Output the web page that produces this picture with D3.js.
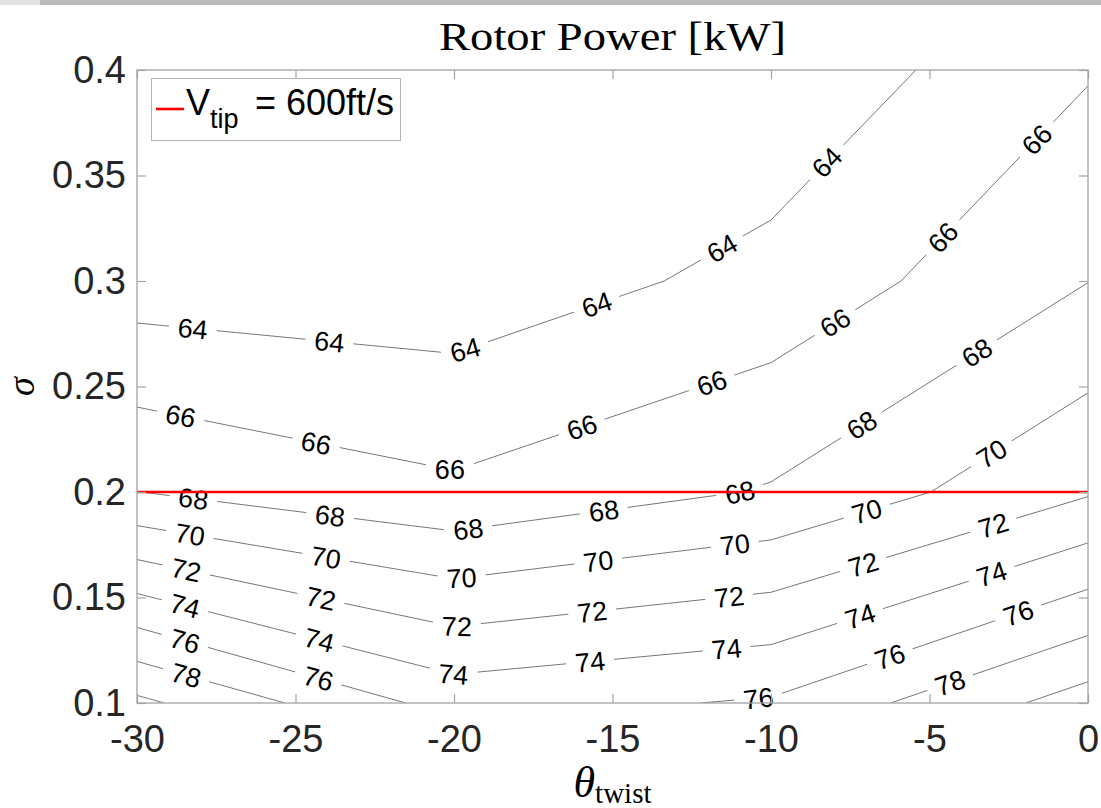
<!DOCTYPE html>
<html lang="en">
  <meta charset="utf-8" />
  <head>
    <title>Rotor Power</title>
    <script src="https://cdn.jsdelivr.net/npm/d3@7"></script>
    <style>
      body { margin: 0; background: #fff; }
      svg { display: block; }
    </style>
  </head>
  <body>
  <script>
    // DATA
    // power [kW] on the (theta_twist, sigma) grid, rows = sigma, cols = theta
    var thetaGrid = [-30, -20, -10, 0];
    var sigmaGrid = [0.1, 0.2, 0.3, 0.4];
    var powerGrid = [
      [80.45, 75.20, 76.23, 80.92],
      [68.02, 66.37, 68.17, 71.80],
      [63.00, 62.76, 64.63, 67.97],
      [62.40, 62.20, 62.45, 65.84]
    ];
    var levels = [64, 66, 68, 70, 72, 74, 76, 78, 80];
    // where the inline labels sit along each contour (theta)
    var labelThetas = [
      [-28.24, -23.93, -19.65, -15.5, -11.55, -8.24],
      [-28.62, -24.35, -20.13, -15.97, -11.87, -7.98, -4.58, -1.62],
      [-28.22, -23.91, -19.55, -15.27, -10.98, -7.14, -3.51],
      [-28.33, -24.04, -19.76, -15.45, -11.14, -6.98, -3.04],
      [-28.45, -24.2, -19.91, -15.64, -11.32, -7.09, -2.99],
      [-28.49, -24.25, -20.02, -15.71, -11.4, -7.19, -3.04],
      [-28.49, -24.28, -10.4, -6.25, -2.2],
      [-28.45, -4.35],
      []
    ];
    var thetaTicks = [-30, -25, -20, -15, -10, -5, 0];
    var sigmaTicks = [0.1, 0.15, 0.2, 0.25, 0.3, 0.35, 0.4];
    var vtipSigma = 0.2;

    // CONFIG
    var width = 1101, height = 808;
    var plotL = 137, plotR = 1088, plotT = 70, plotB = 703;
    var sans = "'Liberation Sans', Arial, Helvetica, sans-serif";
    var serif = "'Liberation Serif', 'Times New Roman', serif";
    var axisGray = "#a3a3a3";

    var x = d3.scaleLinear().domain([-30, 0]).range([plotL, plotR]);
    var y = d3.scaleLinear().domain([0.1, 0.4]).range([plotB, plotT]);

    var svg = d3.select("body").append("svg")
        .attr("width", width)
        .attr("height", height);

    // screenshot band along the top
    svg.append("rect").attr("x", 0).attr("y", 0).attr("width", width).attr("height", 5).attr("fill", "#bcbcbc");
    svg.append("rect").attr("x", 0).attr("y", 0).attr("width", 40).attr("height", 5).attr("fill", "#e2e2e2");

    // marching squares on the coarse grid
    function contourSegments(level) {
      var segs = [];
      for (var j = 0; j < sigmaGrid.length - 1; j++) {
        for (var i = 0; i < thetaGrid.length - 1; i++) {
          var corners = [[i, j], [i + 1, j], [i + 1, j + 1], [i, j + 1]];
          var pts = [];
          for (var k = 0; k < 4; k++) {
            var a = corners[k], b = corners[(k + 1) % 4];
            var va = powerGrid[a[1]][a[0]], vb = powerGrid[b[1]][b[0]];
            if ((va - level) * (vb - level) < 0) {
              var t = (level - va) / (vb - va);
              pts.push([
                thetaGrid[a[0]] + t * (thetaGrid[b[0]] - thetaGrid[a[0]]),
                sigmaGrid[a[1]] + t * (sigmaGrid[b[1]] - sigmaGrid[a[1]])
              ]);
            }
          }
          if (pts.length === 2) segs.push(pts);
          if (pts.length === 4) segs.push([pts[0], pts[1]], [pts[2], pts[3]]);
        }
      }
      return segs;
    }

    function same(p, q) {
      return Math.abs(p[0] - q[0]) < 1e-9 && Math.abs(p[1] - q[1]) < 1e-9;
    }

    // join segments into polylines
    function chain(segs) {
      var lines = [];
      segs = segs.slice();
      while (segs.length) {
        var ln = segs.shift().slice();
        var grown = true;
        while (grown) {
          grown = false;
          for (var s = 0; s < segs.length; s++) {
            var sg = segs[s];
            if (same(sg[0], ln[ln.length - 1])) ln.push(sg[1]);
            else if (same(sg[1], ln[ln.length - 1])) ln.push(sg[0]);
            else if (same(sg[1], ln[0])) ln.unshift(sg[0]);
            else if (same(sg[0], ln[0])) ln.unshift(sg[1]);
            else continue;
            segs.splice(s, 1);
            grown = true;
            break;
          }
        }
        // left to right
        if (ln[0][0] > ln[ln.length - 1][0]) ln.reverse();
        lines.push(ln);
      }
      return lines;
    }

    function sigmaAt(lines, t) {
      for (var l = 0; l < lines.length; l++) {
        var ln = lines[l];
        for (var i = 0; i < ln.length - 1; i++) {
          var p = ln[i], q = ln[i + 1];
          var lo = Math.min(p[0], q[0]), hi = Math.max(p[0], q[0]);
          if (t >= lo && t <= hi && hi > lo) {
            return p[1] + (t - p[0]) / (q[0] - p[0]) * (q[1] - p[1]);
          }
        }
      }
      return null;
    }

    var contours = levels.map(function (lv, i) {
      return { level: lv, lines: chain(contourSegments(lv)), labels: labelThetas[i] };
    });

    var lineGen = d3.line().x((d) => x(d[0])).y((d) => y(d[1]));

    // label geometry
    var labels = [];
    contours.forEach(function (c) {
      c.labels.forEach(function (t) {
        var s = sigmaAt(c.lines, t);
        if (s === null) return;
        var dt = 0.5;
        var ta = Math.max(-30, t - dt), tb = Math.min(0, t + dt);
        var s0 = sigmaAt(c.lines, ta), s1 = sigmaAt(c.lines, tb);
        if (s0 === null) { s0 = s; ta = t; }
        if (s1 === null) { s1 = s; tb = t; }
        var ang = Math.atan2(y(s1) - y(s0), x(tb) - x(ta)) * 180 / Math.PI;
        if (ang > 90) ang -= 180;
        if (ang < -90) ang += 180;
        labels.push({ level: c.level, px: x(t), py: y(s), angle: ang });
      });
    });

    var defs = svg.append("defs");
    defs.append("clipPath").attr("id", "plotClip")
      .append("rect").attr("x", plotL).attr("y", plotT)
      .attr("width", plotR - plotL).attr("height", plotB - plotT);

    var lineHolder = svg.append("g").attr("clip-path", "url(#plotClip)");

    // contour labels
    var labelG = svg.append("g").attr("class", "clabels");
    var texts = labelG.selectAll("text")
      .data(labels).enter()
      .append("text")
        .attr("transform", (d) => `translate(${d.px},${d.py}) rotate(${d.angle})`)
        .attr("text-anchor", "middle")
        .attr("dy", "0.36em")
        .attr("font-family", sans)
        .attr("font-size", 27)
        .attr("fill", "#000")
        .text((d) => d.level);
    texts.each(function (d) { d.w = this.getComputedTextLength(); });

    var mask = defs.append("mask").attr("id", "gaps").attr("maskUnits", "userSpaceOnUse")
      .attr("x", 0).attr("y", 0).attr("width", width).attr("height", height);
    mask.append("rect").attr("x", 0).attr("y", 0).attr("width", width).attr("height", height).attr("fill", "#fff");
    mask.selectAll("rect.gap")
      .data(labels).enter()
      .append("rect")
        .attr("class", "gap")
        .attr("x", (d) => -(d.w / 2 + 9))
        .attr("y", -13)
        .attr("width", (d) => d.w + 18)
        .attr("height", 26)
        .attr("transform", (d) => `translate(${d.px},${d.py}) rotate(${d.angle})`)
        .attr("fill", "#000");

    var lineG = lineHolder.append("g").attr("mask", "url(#gaps)");
    contours.forEach(function (c) {
      c.lines.forEach(function (ln) {
        lineG.append("path")
          .attr("d", lineGen(ln))
          .attr("fill", "none")
          .attr("stroke", "#767676")
          .attr("stroke-width", 1)
          .attr("stroke-linejoin", "round");
      });
    });

    // V_tip line
    svg.append("line")
      .attr("x1", x(-30)).attr("x2", x(0))
      .attr("y1", y(vtipSigma)).attr("y2", y(vtipSigma))
      .attr("stroke", "#ff0000")
      .attr("stroke-width", 2.6);

    // AXES
    function styleAxis(g) {
      g.select(".domain").remove();
      g.selectAll(".tick line").attr("stroke", axisGray).attr("stroke-width", 1.2);
      g.selectAll(".tick text").attr("fill", "#262626").attr("font-family", sans).attr("font-size", 38);
    }

    svg.append("g")
      .attr("transform", `translate(0,${plotB})`)
      .call(d3.axisBottom(x).tickValues(thetaTicks).tickSizeInner(-9).tickSizeOuter(0).tickPadding(22)
        .tickFormat((d) => String(d)))
      .call(styleAxis);
    svg.append("g")
      .attr("transform", `translate(0,${plotT})`)
      .call(d3.axisTop(x).tickValues(thetaTicks).tickSizeInner(-9).tickSizeOuter(0).tickFormat(""))
      .call(styleAxis);
    svg.append("g")
      .attr("transform", `translate(${plotL},0)`)
      .call(d3.axisLeft(y).tickValues(sigmaTicks).tickSizeInner(-9).tickSizeOuter(0).tickPadding(11)
        .tickFormat(d3.format("~g")))
      .call(styleAxis);
    svg.append("g")
      .attr("transform", `translate(${plotR},0)`)
      .call(d3.axisRight(y).tickValues(sigmaTicks).tickSizeInner(-9).tickSizeOuter(0).tickFormat(""))
      .call(styleAxis);

    svg.append("rect")
      .attr("x", plotL).attr("y", plotT)
      .attr("width", plotR - plotL).attr("height", plotB - plotT)
      .attr("fill", "none")
      .attr("stroke", axisGray)
      .attr("stroke-width", 1.3);

    // TITLE + LABELS
    svg.append("text")
      .attr("x", (plotL + plotR) / 2)
      .attr("y", 50)
      .attr("text-anchor", "middle")
      .attr("font-family", serif)
      .attr("font-size", 41)
      .attr("textLength", 347)
      .attr("lengthAdjust", "spacingAndGlyphs")
      .attr("fill", "#000")
      .text("Rotor Power [kW]");

    var xl = svg.append("text")
      .attr("x", (plotL + plotR) / 2)
      .attr("y", 797)
      .attr("text-anchor", "middle")
      .attr("font-family", serif)
      .attr("fill", "#000");
    xl.append("tspan").attr("font-style", "italic").attr("font-size", 44).text("θ");
    xl.append("tspan").attr("font-size", 29).attr("dy", 6).text("twist");

    svg.append("text")
      .attr("transform", `translate(34,${(plotT + plotB) / 2}) rotate(-90)`)
      .attr("text-anchor", "middle")
      .attr("font-family", serif)
      .attr("font-style", "italic")
      .attr("font-size", 38)
      .attr("fill", "#000")
      .text("σ");

    // LEGEND
    var lg = svg.append("g");
    lg.append("rect")
      .attr("x", 151.5).attr("y", 78.5)
      .attr("width", 249).attr("height", 62)
      .attr("fill", "#fff")
      .attr("stroke", "#b4b4b4")
      .attr("stroke-width", 1);
    lg.append("line")
      .attr("x1", 156).attr("x2", 184)
      .attr("y1", 109).attr("y2", 109)
      .attr("stroke", "#ff0000")
      .attr("stroke-width", 2.6);
    var lt = lg.append("text")
      .attr("x", 186)
      .attr("y", 115)
      .attr("font-family", sans)
      .attr("fill", "#000");
    lt.append("tspan").attr("font-size", 36).text("V");
    lt.append("tspan").attr("font-size", 27).attr("dy", 13).text("tip");
    lt.append("tspan").attr("font-size", 36).attr("dy", -13).attr("x", 255).text("= 600ft/s");

  </script>
  </body>
</html>
